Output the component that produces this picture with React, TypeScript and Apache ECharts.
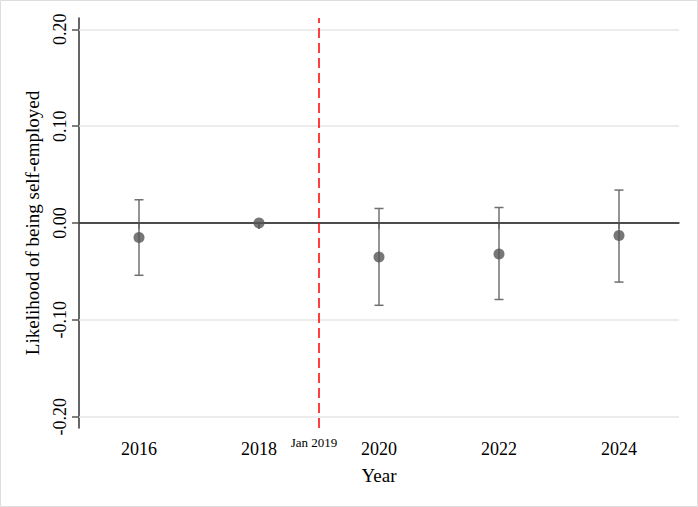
import React, { useEffect, useRef } from "react";
import * as echarts from "echarts";

const years = [2016, 2018, 2020, 2022, 2024];
const estimates = [-0.015, 0, -0.035, -0.032, -0.013];
const ciLow: (number | null)[] = [-0.054, null, -0.085, -0.079, -0.061];
const ciHigh: (number | null)[] = [0.024, null, 0.015, 0.016, 0.034];
const yTicks = [-0.2, -0.1, 0, 0.1, 0.2];
const gridValues = [-0.2, -0.1, 0.1, 0.2];
const policyYear = 2019;
const policyLabel = "Jan 2019";

const FONT = "Liberation Serif";

export default function App() {
  const ref = useRef<HTMLDivElement>(null);
  useEffect(() => {
    if (!ref.current) return;
    const chart = echarts.init(ref.current, undefined, { renderer: "svg" });
    const errData = years
      .map((y, i) => [y, ciLow[i], ciHigh[i]])
      .filter((d) => d[1] !== null);
    const border = {
      type: "rect",
      shape: { x: 0.5, y: 0.5, width: 697, height: 506 },
      style: { fill: "none", stroke: "#dddddd", lineWidth: 1 },
      silent: true,
    };
    chart.setOption({
      animation: false,
      backgroundColor: "#ffffff",
      grid: { left: 79, right: 19, top: 18, bottom: 79 },
      xAxis: {
        type: "value",
        min: 2015,
        max: 2025,
        name: "Year",
        nameLocation: "middle",
        nameGap: 38,
        nameTextStyle: { fontFamily: FONT, fontSize: 19, color: "#000" },
        axisLine: { show: true, lineStyle: { color: "#333", width: 1.5 } },
        axisTick: {
          show: true,
          length: 6,
          customValues: years,
          lineStyle: { color: "#555", width: 1.5 },
        },
        axisLabel: {
          customValues: years,
          fontFamily: FONT,
          fontSize: 18,
          color: "#000",
          margin: 12,
          formatter: (v: number) => String(v),
        },
        splitLine: { show: false },
      },
      yAxis: {
        type: "value",
        min: -0.2117,
        max: 0.2117,
        name: "Likelihood of being self-employed",
        nameLocation: "middle",
        nameGap: 37,
        nameTextStyle: { fontFamily: FONT, fontSize: 19, color: "#000" },
        axisLine: { show: true, lineStyle: { color: "#333", width: 1.5 } },
        axisTick: {
          show: true,
          length: 7,
          customValues: yTicks,
          lineStyle: { color: "#555", width: 1.5 },
        },
        axisLabel: {
          customValues: yTicks,
          rotate: 90,
          fontFamily: FONT,
          fontSize: 18,
          color: "#000",
          margin: 10,
          formatter: (v: number) => v.toFixed(2),
        },
        splitLine: { show: false },
      },
      series: [
        {
          type: "line",
          data: [],
          silent: true,
          markLine: {
            silent: true,
            symbol: "none",
            label: { show: false },
            lineStyle: { color: "#e6e6e6", width: 1.5, type: "solid" },
            data: gridValues.map((v) => ({ yAxis: v })),
          },
        },
        {
          type: "line",
          data: [],
          silent: true,
          markLine: {
            silent: true,
            symbol: "none",
            label: { show: false },
            data: [
              { yAxis: 0, lineStyle: { color: "#444", width: 1.5, type: "solid" } },
              {
                xAxis: policyYear,
                lineStyle: { color: "#ff0000", width: 1.5, type: [10, 5] },
              },
            ],
          },
          z: 3,
        },
        {
          type: "custom",
          data: errData,
          z: 4,
          renderItem: (params: any, api: any) => {
            const x = api.value(0);
            const lo = api.coord([x, api.value(1)]);
            const hi = api.coord([x, api.value(2)]);
            const cap = 4.5;
            const style = { stroke: "#707070", lineWidth: 1.5 };
            return {
              type: "group",
              children: [
                { type: "line", shape: { x1: lo[0], y1: lo[1], x2: hi[0], y2: hi[1] }, style },
                { type: "line", shape: { x1: lo[0] - cap, y1: lo[1], x2: lo[0] + cap, y2: lo[1] }, style },
                { type: "line", shape: { x1: hi[0] - cap, y1: hi[1], x2: hi[0] + cap, y2: hi[1] }, style },
              ],
            };
          },
        },
        {
          type: "scatter",
          data: years.map((y, i) => [y, estimates[i]]),
          symbol: "circle",
          symbolSize: 11,
          itemStyle: { color: "#555555" },
          z: 5,
        },
      ],
      graphic: [border],
    });
    const p = chart.convertToPixel({ gridIndex: 0 }, [policyYear, -0.2117]) as number[];
    chart.setOption({
      graphic: [
        border,
        {
          type: "text",
          x: p[0] - 5,
          y: p[1] + 14,
          style: {
            text: policyLabel,
            fontFamily: FONT,
            fontSize: 13,
            fill: "#000",
            align: "center",
            verticalAlign: "middle",
          },
        },
      ],
    });
    return () => chart.dispose();
  }, []);
  return (
    <div
      ref={ref}
      style={{ position: "absolute", left: 0, top: 0, width: 698, height: 507 }}
    />
  );
}
